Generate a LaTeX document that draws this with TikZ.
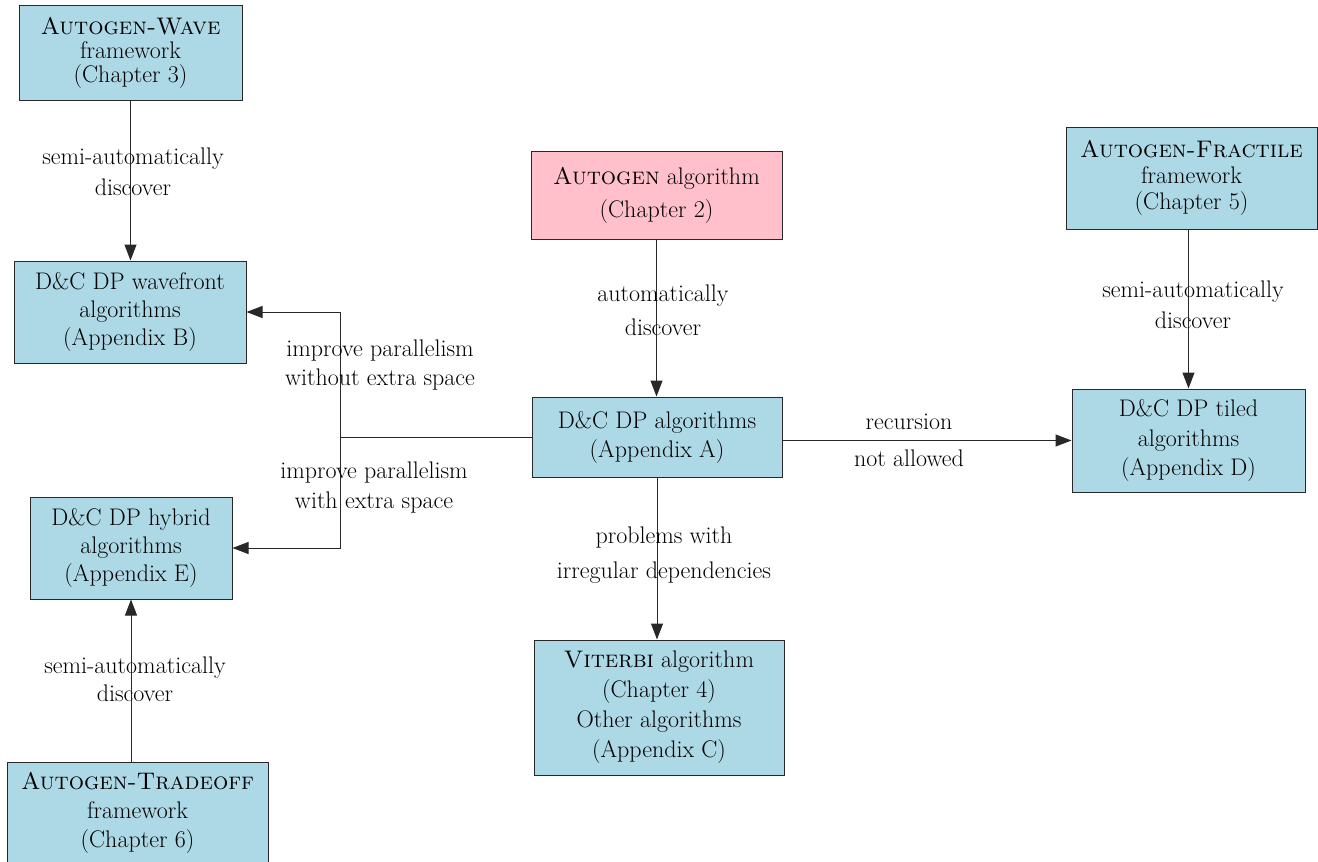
\documentclass[tikz,border=0pt]{standalone}
\usetikzlibrary{arrows.meta,calc}
\definecolor{boxblue}{RGB}{173,216,230}
\definecolor{boxpink}{RGB}{255,192,203}
\definecolor{linegray}{RGB}{40,40,40}
\begin{document}
\begin{tikzpicture}[x=1pt,y=-1pt,
  box/.style={draw=linegray, line width=1pt, fill=boxblue, align=center, inner sep=0pt,
    font=\fontsize{24}{28}\selectfont},
  lbl/.style={align=center, inner sep=0pt},
  conn/.style={draw=linegray, line width=1pt, -{Triangle[length=16pt,width=12pt]}},
  plainline/.style={draw=linegray, line width=1pt}]
\useasboundingbox (0,0) rectangle (1318,862);
% boxes
\node[box, minimum width=223pt, minimum height=95pt, font=\fontsize{24}{24}\selectfont] (wave) at (130.5,52.5)
  {\textsc{Autogen-Wave}\\framework\\(Chapter 3)};
\node[box, minimum width=232pt, minimum height=102pt] (wavefront) at (130,312)
  {D\&C DP wavefront\\algorithms\\(Appendix B)};
\node[box, minimum width=202pt, minimum height=102pt] (hybrid) at (131,548)
  {D\&C DP hybrid\\algorithms\\(Appendix E)};
\node[box, minimum width=261pt, minimum height=102pt, font=\fontsize{24}{29}\selectfont] (tradeoff) at (137.5,813)
  {\textsc{Autogen-Tradeoff}\\framework\\(Chapter 6)};
\node[box, fill=boxpink, minimum width=251pt, minimum height=88pt, font=\fontsize{24}{33}\selectfont] (pink) at (656.5,195)
  {\textsc{Autogen} algorithm\\(Chapter 2)};
\node[box, minimum width=250pt, minimum height=80pt, font=\fontsize{24}{29}\selectfont] (algos) at (657,437)
  {D\&C DP algorithms\\(Appendix A)};
\node[box, minimum width=250pt, minimum height=135pt, font=\fontsize{24}{30}\selectfont] (viterbi) at (659,707.5)
  {\textsc{Viterbi} algorithm\\(Chapter 4)\\Other algorithms\\(Appendix C)};
\node[box, minimum width=251pt, minimum height=102pt, font=\fontsize{24}{26}\selectfont] (fractile) at (1191.5,178)
  {\textsc{Autogen-Fractile}\\framework\\(Chapter 5)};
\node[box, minimum width=233pt, minimum height=103pt, font=\fontsize{24}{29.5}\selectfont] (tiled) at (1188.5,440.5)
  {D\&C DP tiled\\algorithms\\(Appendix D)};
% connectors
\coordinate (split) at (340,437);
\draw[conn] (wave.south) -- (wave.south |- wavefront.north);
\draw[conn] (pink.south) -- (pink.south |- algos.north);
\draw[conn] (algos.south) -- (algos.south |- viterbi.north);
\draw[conn] (tiled.north |- fractile.south) -- (tiled.north);
\draw[conn] (tiled.west -| algos.east) -- (tiled.west);
\draw[plainline] (algos.west) -- (split);
\draw[conn] (split) |- (wavefront.east);
\draw[conn] (split) |- (hybrid.east);
\draw[conn] (hybrid.south |- tradeoff.north) -- (hybrid.south);
% labels
\node[lbl, font=\fontsize{24}{31}\selectfont] (l1) at (133,172) {semi-automatically\\discover};
\node[lbl, font=\fontsize{24}{34}\selectfont] (l2) at (663,310) {automatically\\discover};
\node[lbl, font=\fontsize{24}{31}\selectfont] (l3) at (1193,305) {semi-automatically\\discover};
\node[lbl, font=\fontsize{24}{28}\selectfont] (l4) at (135,679) {semi-automatically\\discover};
\node[lbl, font=\fontsize{24}{29}\selectfont] (l5) at (380,365) {improve parallelism\\without extra space};
\node[lbl, font=\fontsize{24}{30}\selectfont] (l6) at (374,488) {improve parallelism\\with extra space};
\node[lbl, font=\fontsize{24}{35}\selectfont] (l7) at (664,555) {problems with\\irregular dependencies};
\node[lbl, font=\fontsize{24}{37}\selectfont] (l8) at (909,440.5) {recursion\\not allowed};
\end{tikzpicture}
\end{document}
